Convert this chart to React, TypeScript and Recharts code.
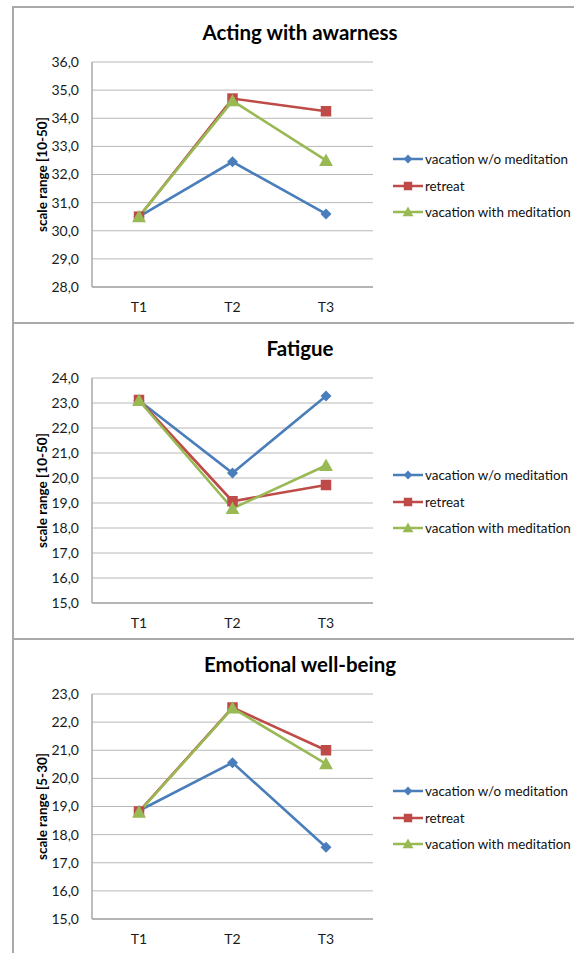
import React from 'react';
import { LineChart, Line, XAxis, YAxis, CartesianGrid, Legend } from 'recharts';

const categories = ['T1', 'T2', 'T3'];
const seriesNames = ['vacation w/o meditation', 'retreat', 'vacation with meditation'];
const seriesColors = ['#4A7EBB', '#BE4B48', '#98B954'];

const panelTitles = ['Acting with awarness', 'Fatigue', 'Emotional well-being'];
const yLabels = ['scale range [10-50]', 'scale range [10-50]', 'scale range [5-30]'];
const yDomains: [number, number][] = [[28, 36], [15, 24], [15, 23]];

const awareVacation = [30.5, 32.45, 30.6];
const awareRetreat = [30.5, 34.7, 34.25];
const awareMeditation = [30.5, 34.62, 32.5];

const fatigueVacation = [23.1, 20.2, 23.28];
const fatigueRetreat = [23.12, 19.07, 19.72];
const fatigueMeditation = [23.1, 18.78, 20.5];

const emoVacation = [18.85, 20.56, 17.55];
const emoRetreat = [18.82, 22.52, 21.0];
const emoMeditation = [18.8, 22.5, 20.52];

const panelSeries = [
  [awareVacation, awareRetreat, awareMeditation],
  [fatigueVacation, fatigueRetreat, fatigueMeditation],
  [emoVacation, emoRetreat, emoMeditation],
];

const FONT = 'Lato, "Noto Sans", sans-serif';
const PANEL_H = 316;
const PANEL_TOP0 = 6;

function makeTicks(d: [number, number]) {
  const t: number[] = [];
  for (let v = d[0]; v <= d[1]; v += 1) t.push(v);
  return t;
}

const fmt = (v: number) => v.toFixed(1).replace('.', ',');

function Marker({ kind, cx, cy, color, s }: { kind: number; cx: number; cy: number; color: string; s: number }) {
  if (kind === 0) {
    const r = s * 0.55;
    return <path d={`M${cx},${cy - r}L${cx + r},${cy}L${cx},${cy + r}L${cx - r},${cy}Z`} fill={color} />;
  }
  if (kind === 1) {
    const h = s * 0.5;
    return <rect x={cx - h} y={cy - h} width={2 * h} height={2 * h} fill={color} />;
  }
  const w = s * 0.6;
  return <path d={`M${cx},${cy - w}L${cx + w},${cy + w * 0.8}L${cx - w},${cy + w * 0.8}Z`} fill={color} />;
}

function LegendBox() {
  return (
    <div style={{ fontFamily: FONT, fontSize: 13.4, color: '#111' }}>
      {seriesNames.map((n, i) => (
        <div key={n} style={{ height: 26.5, display: 'flex', alignItems: 'center', whiteSpace: 'nowrap' }}>
          <svg width={32} height={14} style={{ display: 'block' }}>
            <line x1={0} y1={7} x2={30} y2={7} stroke={seriesColors[i]} strokeWidth={2.5} />
            <Marker kind={i} cx={15} cy={7} color={seriesColors[i]} s={i === 0 ? 8 : i === 1 ? 8.5 : 9} />
          </svg>
          <span>{n}</span>
        </div>
      ))}
    </div>
  );
}

function Panel({ idx }: { idx: number }) {
  const top = PANEL_TOP0 + idx * PANEL_H;
  const data = categories.map((c, i) => ({
    name: c,
    s0: panelSeries[idx][0][i],
    s1: panelSeries[idx][1][i],
    s2: panelSeries[idx][2][i],
  }));
  const domain = yDomains[idx];
  return (
    <>
      <div
        style={{
          position: 'absolute',
          left: 12,
          top,
          width: 700,
          height: PANEL_H + 10,
          borderLeft: '2px solid #a9a9a9',
          borderTop: '2px solid #a9a9a9',
          boxSizing: 'border-box',
        }}
      />
      <div
        style={{
          position: 'absolute',
          left: 100,
          width: 400,
          top: top + 13,
          textAlign: 'center',
          fontFamily: FONT,
          fontWeight: 700,
          fontSize: 20.5,
          lineHeight: '26px',
          color: '#000',
        }}
      >
        {panelTitles[idx]}
      </div>
      <div style={{ position: 'absolute', left: 0, top }}>
        <LineChart
          width={574}
          height={PANEL_H}
          data={data}
          margin={{ top: 56, right: 201, bottom: 5, left: 32 }}
          style={{ fontFamily: FONT }}
        >
          <CartesianGrid vertical={false} stroke="#b8b8b8" strokeWidth={1} />
          <XAxis
            dataKey="name"
            padding={{ left: 47, right: 47 }}
            tickLine={false}
            tickSize={0}
            tickMargin={15}
            axisLine={{ stroke: '#a8a8a8', strokeWidth: 1.5 }}
            tick={{ fontSize: 14, fill: '#1a1a1a', fontFamily: FONT }}
            height={30}
          />
          <YAxis
            domain={domain}
            ticks={makeTicks(domain)}
            allowDataOverflow
            tickFormatter={fmt}
            tickLine={false}
            tickSize={0}
            tickMargin={13}
            width={60}
            axisLine={{ stroke: '#a8a8a8', strokeWidth: 1.5 }}
            tick={{ fontSize: 14, fill: '#1a1a1a', fontFamily: FONT }}
            label={{
              value: yLabels[idx],
              angle: -90,
              position: 'center',
              dx: -20,
              style: { fontSize: 13.5, fontWeight: 700, fill: '#000', fontFamily: FONT },
            }}
          />
          <Legend
            layout="horizontal"
            align="center"
            verticalAlign="middle"
            content={() => <LegendBox />}
            wrapperStyle={{ left: 393, top: 140, width: 190, height: 80 }}
          />
          {[0, 1, 2].map((k) => (
            <Line
              key={k}
              type="linear"
              dataKey={`s${k}`}
              name={seriesNames[k]}
              stroke={seriesColors[k]}
              strokeWidth={2.6}
              isAnimationActive={false}
              dot={(p: any) => (
                <Marker
                  key={`d${k}-${p.index}`}
                  kind={k}
                  cx={p.cx}
                  cy={p.cy}
                  color={seriesColors[k]}
                  s={k === 0 ? 10 : k === 1 ? 10.5 : 11.5}
                />
              )}
              activeDot={false}
            />
          ))}
        </LineChart>
      </div>
    </>
  );
}

export default function App() {
  return (
    <div style={{ position: 'absolute', left: 0, top: 0, width: 574, height: 953, overflow: 'hidden', background: '#fff' }}>
      {[0, 1, 2].map((i) => (
        <Panel key={i} idx={i} />
      ))}
    </div>
  );
}
